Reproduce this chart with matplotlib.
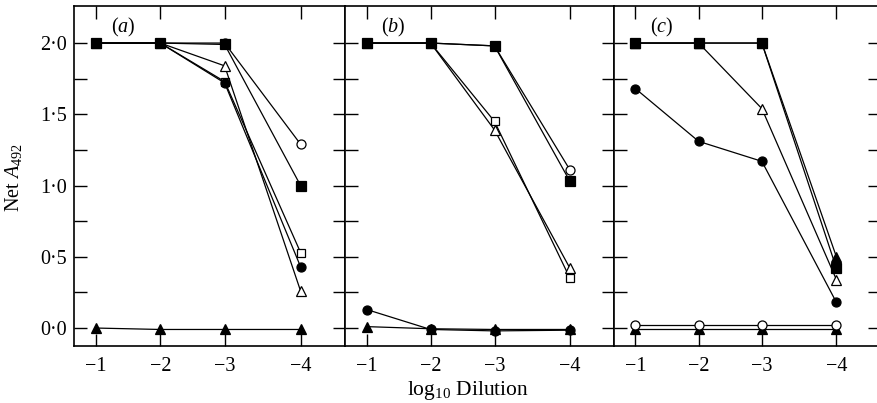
import matplotlib
matplotlib.use('Agg')
from matplotlib import pyplot as plt
import numpy as np

plt.rcParams['font.family'] = ['Liberation Serif', 'DejaVu Serif']
plt.rcParams['mathtext.fontset'] = 'custom'
plt.rcParams['mathtext.rm'] = 'Liberation Serif'
plt.rcParams['mathtext.it'] = 'Liberation Serif:italic'

# x axis: log10 dilution (the -4 point sits a bit further out in the original)
x_labels = ['\u22121', '\u22122', '\u22123', '\u22124']
x_pos = [1, 2, 3, 4.18]

y_ticks = [0.0, 0.25, 0.5, 0.75, 1.0, 1.25, 1.5, 1.75, 2.0]
y_ticklabels = ['0\u00b70', '', '0\u00b75', '', '1\u00b70', '', '1\u00b75', '', '2\u00b70']

# panel (a)
a_circ_open = [2.0, 2.0, 2.0, 1.29]
a_sq_open = [2.0, 2.0, 1.73, 0.53]
a_circ_filled = [2.0, 2.0, 1.72, 0.43]
a_tri_open = [2.0, 2.0, 1.84, 0.26]
a_sq_filled = [2.0, 2.0, 1.99, 1.00]
a_tri_filled = [0.0, -0.01, -0.01, -0.01]

# panel (b)
b_circ_open = [2.0, 2.0, 1.98, 1.11]
b_sq_open = [2.0, 2.0, 1.45, 0.35]
b_tri_open = [2.0, 2.0, 1.39, 0.42]
b_sq_filled = [2.0, 2.0, 1.98, 1.03]
b_tri_filled = [0.01, -0.005, -0.01, -0.01]
b_circ_filled = [0.13, -0.01, -0.02, -0.015]

# panel (c)
c_tri_open = [2.0, 2.0, 1.54, 0.34]
c_tri_filled = [2.0, 2.0, 2.0, 0.50]
c_sq_filled = [2.0, 2.0, 2.0, 0.42]
c_circ_filled = [1.68, 1.31, 1.17, 0.18]
c_bottom_filled = [-0.01, -0.01, -0.01, -0.01]
c_circ_open = [0.02, 0.02, 0.02, 0.02]

# marker, face colour, size, zorder
styles = {
    'circ_open': ('o', 'white', 6.5, 3),
    'circ_filled': ('o', 'black', 6.5, 3),
    'sq_open': ('s', 'white', 6, 3),
    'sq_filled': ('s', 'black', 6.5, 4),
    'tri_open': ('^', 'white', 6.5, 3),
    'tri_filled': ('^', 'black', 6.5, 3),
}

panels = [
    ('(a)', [('circ_open', a_circ_open), ('sq_open', a_sq_open), ('circ_filled', a_circ_filled),
             ('tri_open', a_tri_open), ('sq_filled', a_sq_filled), ('tri_filled', a_tri_filled)]),
    ('(b)', [('circ_open', b_circ_open), ('sq_open', b_sq_open), ('tri_open', b_tri_open),
             ('sq_filled', b_sq_filled), ('tri_filled', b_tri_filled), ('circ_filled', b_circ_filled)]),
    ('(c)', [('tri_open', c_tri_open), ('tri_filled', c_tri_filled), ('sq_filled', c_sq_filled),
             ('circ_filled', c_circ_filled), ('tri_filled', c_bottom_filled), ('circ_open', c_circ_open)]),
]

W, H = 877, 403
fig = plt.figure(figsize=(W / 100, H / 100), dpi=100)
edges = [74, 345, 614, 880]
top_px, bot_px = 6, 346
fs = 14.5

axes = []
for i, (tag, series) in enumerate(panels):
    x0, x1 = edges[i], edges[i + 1]
    ax = fig.add_axes([x0 / W, 1 - bot_px / H, (x1 - x0) / W, (bot_px - top_px) / H])
    for key, vals in series:
        m, fc, ms, z = styles[key]
        ax.plot(x_pos, vals, color='black', lw=0.9, marker=m, ms=ms,
                mfc=fc, mec='black', mew=0.9, zorder=z)
    ax.set_xlim(0.66, 4.87)
    ax.set_ylim(-0.126, 2.26)
    ax.set_xticks(x_pos)
    ax.set_xticklabels(x_labels)
    ax.set_yticks(y_ticks)
    if i == 0:
        ax.set_yticklabels(y_ticklabels)
    else:
        ax.set_yticklabels([])
    ax.tick_params(direction='in', length=9, width=1.0, top=True, right=True,
                   labelsize=fs, color='black')
    ax.tick_params(axis='x', pad=8)
    ax.tick_params(axis='y', pad=5)
    for sp in ax.spines.values():
        sp.set_linewidth(1.2)
    ax.text(0.135, 0.97, '(' + '$\\it{' + tag[1] + '}$' + ')', transform=ax.transAxes,
            fontsize=fs, va='top', ha='left')
    axes.append(ax)

fig.text(13 / W, 1 - 178 / H, 'Net $\\it{A}_{492}$', rotation=90, ha='center', va='center', fontsize=fs)
fig.text(468 / W, 1 - 390 / H, 'log$_{10}$ Dilution', ha='center', va='center', fontsize=15.5)

fig.savefig('out.png', dpi=100)
